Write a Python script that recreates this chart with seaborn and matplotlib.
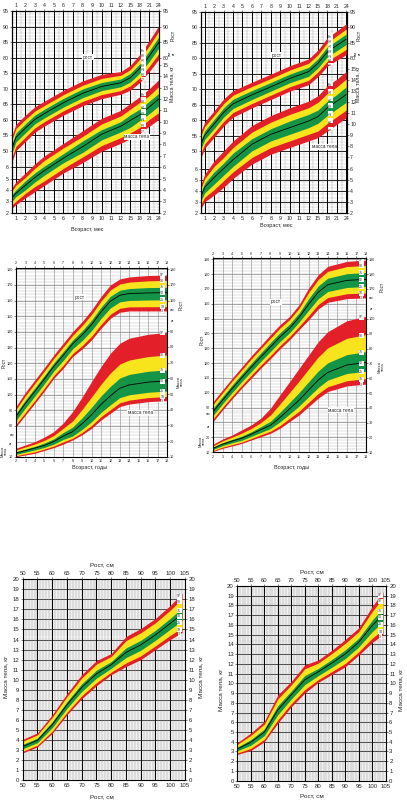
import numpy as np
import matplotlib
matplotlib.use("Agg")
import matplotlib.pyplot as plt
import seaborn as sns

sns.set_style("white")
plt.rcParams['font.family'] = ['Liberation Sans', 'DejaVu Sans']

RED = "#e3202a"
YEL = "#f7e41c"
GRN = "#139447"
W, H = 407, 802

pct_names = ["3", "10", "25", "50", "75", "90", "97"]

# ---- 0-24 месяцев ----
infant_age = [0, 1, 2, 3, 4, 6, 8, 10, 12, 15, 18, 21, 24]
month_ticks = [1, 2, 3, 4, 5, 6, 7, 8, 9, 10, 11, 12, 15, 18, 21, 24]

# строки: 3, 10, 25, 50, 75, 90, 97 перцентили
girls_inf_height = [
    [46.5, 50.0, 53.0, 56.0, 58.0, 61.5, 64.5, 66.8, 68.2, 69.5, 72.0, 75.5, 79.5],
    [47.9, 51.4, 54.4, 57.4, 59.4, 62.9, 65.9, 68.1, 69.4, 70.9, 73.5, 77.2, 81.3],
    [49.3, 52.8, 55.8, 58.7, 60.6, 64.1, 67.1, 69.4, 70.6, 72.1, 75.0, 78.8, 83.1],
    [50.8, 54.3, 57.3, 60.1, 62.0, 65.5, 68.5, 70.7, 71.9, 73.5, 76.5, 80.5, 84.9],
    [52.2, 55.7, 58.7, 61.5, 63.4, 66.9, 69.9, 72.0, 73.1, 74.9, 78.0, 82.2, 86.7],
    [53.6, 57.1, 60.1, 62.8, 64.6, 68.1, 71.1, 73.3, 74.3, 76.1, 79.5, 83.8, 88.5],
    [55.0, 58.5, 61.5, 64.2, 66.0, 69.5, 72.5, 74.6, 75.5, 77.5, 81.0, 85.5, 90.3],
]
girls_inf_weight = [
    [2.4, 2.7, 3.3, 3.85, 4.4, 5.5, 6.4, 7.4, 8.1, 8.5, 9.0, 9.6, 10.2],
    [2.7, 3.0, 3.7, 4.3, 4.8, 5.9, 6.9, 7.9, 8.6, 9.0, 9.5, 10.2, 10.8],
    [3.0, 3.4, 4.0, 4.7, 5.3, 6.4, 7.3, 8.4, 9.1, 9.5, 10.1, 10.7, 11.4],
    [3.3, 3.7, 4.4, 5.1, 5.7, 6.8, 7.8, 8.9, 9.6, 10.1, 10.6, 11.3, 12.0],
    [3.6, 4.0, 4.8, 5.5, 6.1, 7.2, 8.3, 9.3, 10.0, 10.6, 11.1, 11.8, 12.5],
    [3.9, 4.4, 5.1, 5.9, 6.6, 7.7, 8.7, 9.8, 10.5, 11.1, 11.7, 12.3, 13.1],
    [4.2, 4.7, 5.5, 6.3, 7.0, 8.1, 9.2, 10.3, 11.0, 11.6, 12.2, 12.9, 13.7],
]
boys_inf_height = [
    [48.0, 51.0, 54.5, 58.1, 61.0, 64.0, 66.7, 69.4, 71.5, 74.1, 77.5, 79.4, 81.2],
    [49.4, 52.4, 56.0, 59.6, 62.5, 65.4, 68.1, 70.8, 72.9, 75.6, 79.1, 81.0, 82.9],
    [50.8, 53.8, 57.3, 61.0, 63.8, 66.7, 69.4, 72.1, 74.2, 76.9, 80.5, 82.5, 84.5],
    [52.3, 55.2, 58.8, 62.5, 65.3, 68.2, 70.8, 73.5, 75.7, 78.4, 82.1, 84.2, 86.2],
    [53.7, 56.6, 60.3, 64.0, 66.8, 69.6, 72.2, 74.9, 77.1, 79.9, 83.7, 85.8, 87.9],
    [55.1, 58.0, 61.6, 65.4, 68.1, 70.9, 73.5, 76.2, 78.4, 81.2, 85.1, 87.3, 89.5],
    [56.5, 59.4, 63.1, 66.9, 69.6, 72.3, 74.9, 77.6, 79.8, 82.7, 86.7, 88.9, 91.2],
]
boys_inf_weight = [
    [2.4, 3.0, 3.6, 4.3, 5.1, 6.4, 7.3, 7.9, 8.5, 8.8, 9.4, 10.0, 10.6],
    [2.8, 3.4, 4.1, 4.9, 5.7, 7.0, 7.9, 8.5, 9.1, 9.4, 10.1, 10.7, 11.3],
    [3.1, 3.8, 4.6, 5.4, 6.2, 7.6, 8.5, 9.1, 9.7, 10.1, 10.8, 11.4, 12.0],
    [3.5, 4.3, 5.2, 6.0, 6.8, 8.2, 9.1, 9.7, 10.3, 10.7, 11.5, 12.1, 12.7],
    [3.9, 4.7, 5.7, 6.5, 7.4, 8.7, 9.6, 10.3, 10.9, 11.3, 12.1, 12.7, 13.4],
    [4.2, 5.1, 6.2, 7.0, 7.9, 9.3, 10.2, 10.9, 11.5, 12.0, 12.8, 13.4, 14.1],
    [4.6, 5.5, 6.7, 7.6, 8.5, 9.9, 10.8, 11.5, 12.1, 12.6, 13.5, 14.1, 14.8],
]

# ---- 2-18 лет ----
child_age = [2, 3, 4, 5, 6, 7, 8, 9, 10, 11, 12, 13, 14, 16, 18]
girls_height = [
    [79.5, 87.0, 94.5, 102.3, 110.4, 116.8, 124.3, 129.1, 134.9, 142.3, 148.7, 152.6, 153.4, 153.4, 153.4],
    [81.1, 88.7, 96.3, 104.1, 112.2, 118.7, 126.2, 131.2, 137.2, 144.7, 151.3, 155.1, 156.0, 156.1, 156.1],
    [83.5, 91.5, 99.1, 106.9, 115.0, 121.8, 129.2, 134.5, 140.8, 148.6, 155.3, 159.2, 160.1, 160.4, 160.5],
    [86.1, 94.4, 102.1, 109.9, 118.0, 125.0, 132.4, 138.0, 144.6, 152.7, 159.6, 163.4, 164.5, 164.9, 165.1],
    [88.1, 96.6, 104.3, 112.1, 120.2, 127.4, 134.8, 140.7, 147.5, 155.7, 162.8, 166.6, 167.7, 168.3, 168.5],
    [90.6, 99.3, 107.2, 115.0, 123.1, 130.4, 137.8, 144.0, 151.1, 159.6, 166.8, 170.6, 171.8, 172.6, 172.9],
    [92.5, 101.5, 109.4, 117.2, 125.3, 132.8, 140.2, 146.6, 154.0, 162.6, 170.0, 173.8, 175.1, 176.0, 176.3],
]
girls_weight = [
    [10.0, 11.1, 12.2, 14.0, 15.8, 18.0, 20.7, 24.0, 28.1, 33.4, 37.7, 42.0, 43.6, 45.1, 45.8],
    [10.6, 11.9, 13.1, 14.9, 16.8, 19.4, 21.8, 25.4, 29.9, 35.5, 40.0, 44.4, 46.1, 47.7, 48.4],
    [11.5, 12.9, 14.3, 15.9, 18.0, 21.0, 23.2, 27.4, 32.3, 38.2, 43.1, 47.7, 49.5, 51.1, 51.9],
    [12.4, 13.9, 15.5, 17.2, 19.7, 23.1, 26.0, 31.0, 36.7, 43.3, 48.8, 53.7, 55.8, 57.6, 58.4],
    [13.2, 14.9, 16.6, 18.7, 21.4, 25.4, 28.9, 34.8, 41.5, 48.7, 54.9, 60.2, 62.5, 64.5, 65.4],
    [14.3, 16.2, 18.1, 20.4, 23.5, 28.1, 32.8, 40.1, 48.1, 56.2, 63.4, 69.1, 71.7, 73.9, 74.9],
    [15.4, 17.5, 19.6, 22.5, 26.0, 31.5, 38.8, 48.0, 57.9, 67.5, 76.0, 82.4, 85.6, 88.1, 89.3],
]
boys_height = [
    [80.5, 88.4, 95.9, 103.1, 109.8, 116.6, 122.9, 129.6, 135.7, 142.5, 149.2, 156.5, 161.0, 163.5, 164.0],
    [82.3, 90.2, 97.7, 104.9, 111.8, 118.6, 125.0, 131.7, 137.8, 144.7, 152.0, 159.5, 164.2, 166.8, 167.3],
    [84.6, 92.5, 100.1, 107.4, 114.3, 121.2, 127.8, 134.5, 140.4, 147.6, 155.6, 163.4, 168.3, 171.0, 171.7],
    [87.1, 95.0, 102.7, 110.1, 117.2, 124.1, 130.8, 137.6, 143.4, 150.8, 159.7, 167.8, 172.9, 175.8, 176.5],
    [89.5, 97.4, 105.2, 112.6, 119.9, 126.9, 133.8, 140.5, 146.3, 153.8, 163.5, 172.0, 177.3, 180.3, 181.1],
    [92.1, 100.0, 107.9, 115.3, 122.8, 129.8, 136.8, 143.6, 149.3, 157.0, 167.6, 176.4, 181.9, 185.1, 185.9],
    [94.0, 101.9, 109.8, 117.3, 124.9, 131.9, 139.1, 145.9, 151.5, 159.4, 170.6, 179.6, 185.3, 188.6, 189.5],
]
boys_weight = [
    [10.5, 12.7, 14.3, 16.0, 18.3, 20.5, 22.8, 26.2, 30.7, 35.2, 40.9, 46.5, 51.0, 54.8, 56.0],
    [11.1, 13.5, 15.2, 16.9, 19.3, 21.8, 24.2, 28.0, 32.9, 37.7, 43.7, 49.6, 54.2, 58.3, 59.7],
    [11.9, 14.5, 16.4, 18.1, 20.7, 23.4, 26.0, 30.5, 35.8, 41.2, 47.5, 53.7, 58.7, 63.2, 64.7],
    [12.7, 15.5, 17.6, 19.5, 22.2, 25.3, 28.2, 33.4, 39.3, 45.2, 52.0, 58.7, 63.9, 68.9, 70.6],
    [13.4, 16.5, 18.7, 20.9, 23.8, 27.3, 30.9, 37.0, 43.6, 50.3, 57.6, 64.8, 70.4, 75.9, 77.9],
    [14.4, 17.7, 20.2, 22.9, 26.1, 30.0, 35.1, 42.6, 50.3, 58.1, 66.2, 74.3, 80.5, 86.9, 89.4],
    [15.4, 19.0, 21.7, 25.1, 28.5, 33.0, 39.7, 48.7, 57.6, 66.6, 75.6, 84.6, 91.4, 98.8, 101.7],
]

# ---- масса тела по росту ----
stature = [50, 55, 60, 65, 70, 75, 80, 85, 90, 95, 100, 104]
girls_wfh = [
    [2.70, 3.30, 4.65, 6.50, 8.10, 9.40, 10.50, 11.30, 12.00, 13.00, 14.00, 14.70],
    [2.86, 3.47, 4.87, 6.75, 8.39, 9.70, 10.75, 11.66, 12.37, 13.37, 14.41, 15.17],
    [3.11, 3.72, 5.21, 7.13, 8.82, 10.15, 11.13, 12.20, 12.93, 13.93, 15.02, 15.87],
    [3.33, 3.96, 5.52, 7.49, 9.23, 10.58, 11.49, 12.71, 13.46, 14.46, 15.60, 16.53],
    [3.54, 4.17, 5.80, 7.80, 9.59, 10.95, 11.80, 13.16, 13.92, 14.92, 16.11, 17.12],
    [3.86, 4.50, 6.24, 8.31, 10.16, 11.55, 12.31, 13.88, 14.67, 15.67, 16.92, 18.05],
    [4.05, 4.70, 6.50, 8.60, 10.50, 11.90, 12.60, 14.30, 15.10, 16.10, 17.40, 18.60],
]
boys_wfh = [
    [2.70, 3.10, 4.00, 5.90, 7.60, 9.00, 10.10, 10.90, 11.70, 12.90, 14.20, 15.00],
    [2.84, 3.32, 4.25, 6.25, 7.91, 9.35, 10.38, 11.20, 12.04, 13.24, 14.64, 15.53],
    [3.06, 3.64, 4.63, 6.77, 8.38, 9.87, 10.79, 11.65, 12.54, 13.74, 15.31, 16.32],
    [3.26, 3.95, 4.99, 7.26, 8.82, 10.36, 11.18, 12.08, 13.02, 14.22, 15.94, 17.07],
    [3.44, 4.22, 5.30, 7.70, 9.21, 10.80, 11.53, 12.45, 13.44, 14.64, 16.49, 17.73],
    [3.73, 4.65, 5.81, 8.39, 9.84, 11.49, 12.08, 13.05, 14.11, 15.31, 17.38, 18.78],
    [3.90, 4.90, 6.10, 8.80, 10.20, 11.90, 12.40, 13.40, 14.50, 15.70, 17.90, 19.40],
]

fig = plt.figure(figsize=(W / 100, H / 100), dpi=100)


def px_axes(l, t, r, b):
    return fig.add_axes([l / W, 1 - b / H, (r - l) / W, (b - t) / H])


def ftext(x, y, s, **kw):
    kw.setdefault("fontsize", 4)
    kw.setdefault("ha", "center")
    kw.setdefault("va", "center")
    fig.text(x / W, 1 - y / H, s, **kw)


def month_pos(m):
    return np.interp(m, [0, 1, 12, 24], [0.6, 1, 12, 16])


def bands(ax, x, rows, label_x, rot=0, fs=3):
    p3, p10, p25, p50, p75, p90, p97 = [np.asarray(r, dtype=float) for r in rows]
    ax.fill_between(x, p3, p97, color=RED, lw=0, zorder=2)
    ax.fill_between(x, p10, p90, color=YEL, lw=0, zorder=3)
    ax.fill_between(x, p25, p75, color=GRN, lw=0, zorder=4)
    sns.lineplot(x=x, y=p50, ax=ax, color="black", lw=0.6, zorder=5)
    for name, r in zip(pct_names, rows):
        yy = np.interp(label_x, x, np.asarray(r, dtype=float))
        ax.text(label_x, yy, name, fontsize=fs, rotation=rot, ha="center", va="center",
                color="#333333", zorder=6,
                bbox=dict(boxstyle="square,pad=0.12", fc="white", ec="none"))


def frame(ax, lw=0.8):
    for s in ax.spines.values():
        s.set_color("black")
        s.set_linewidth(lw)


def right_axis(ax, ticks, labels, fs):
    rt = ax.twinx()
    rt.set_ylim(ax.get_ylim())
    rt.set_yticks(ticks)
    rt.set_yticklabels(labels)
    rt.tick_params(labelsize=fs, length=1.5, width=0.4, pad=1)
    frame(rt)
    return rt


def infant_panel(box, hrows, wrows, wscale, label_x):
    ax = px_axes(*box)
    wmap = lambda w: 30.1 + wscale * (np.asarray(w, dtype=float) - 2)
    x = month_pos(infant_age)
    bands(ax, x, hrows, label_x, rot=90, fs=2.6)
    bands(ax, x, [wmap(r) for r in wrows], label_x, rot=90, fs=2.6)
    ax.set_xlim(0.6, 16.05)
    ax.set_ylim(30.1, 95)
    for v in np.arange(31, 95):
        ax.axhline(v, color="#9a9a9a", lw=0.3, ls=(0, (2, 1)), zorder=1)
    for v in range(50, 96, 5):
        ax.axhline(v, color="black", lw=0.6, zorder=1)
    for w in range(2, 7):
        ax.axhline(wmap(w), color="black", lw=0.6, zorder=1)
    for p in range(1, 17):
        ax.axvline(p, color="black", lw=0.7, zorder=1)
    for p in np.arange(1.5, 16, 1):
        ax.axvline(p, color="#777777", lw=0.3, ls=(0, (2, 1)), zorder=1)
    ax.set_xticks(range(1, 17))
    ax.set_xticklabels([str(m) for m in month_ticks])
    hticks = list(range(50, 96, 5))
    ax.set_yticks(hticks + [float(wmap(w)) for w in range(2, 7)])
    ax.set_yticklabels([str(h) for h in hticks] + [str(w) for w in range(2, 7)])
    ax.tick_params(labelsize=3.8, length=1.5, width=0.4, pad=1, top=True, labeltop=True)
    ax.set_xlabel("")
    ax.set_ylabel("")
    frame(ax)
    rh = [80, 85, 90, 95]
    right_axis(ax, rh + [float(wmap(w)) for w in range(2, 16)],
               [str(h) for h in rh] + [str(w) for w in range(2, 16)], 3.8)
    return ax


def child_panel(box, hrows, wrows, off, top, left_h, left_w, right_h, right_w, label_x):
    ax = px_axes(*box)
    x = np.asarray(child_age, dtype=float)
    bands(ax, x, hrows, label_x, fs=2.6)
    bands(ax, x, [np.asarray(r) + off for r in wrows], label_x, fs=2.6)
    ax.set_xlim(2, 18)
    ax.set_ylim(10 + off, top)
    for v in np.arange(62, top, 2):
        ax.axhline(v, color="#b5b5b5", lw=0.3, zorder=1)
    for v in range(70, int(top) + 1, 10):
        ax.axhline(v, color="#7a7a7a", lw=0.45, zorder=1)
    for a in range(3, 18):
        ax.axvline(a, color="#8a8a8a", lw=0.4, zorder=1)
    ax.set_xticks(range(2, 19))
    ax.tick_params(labelsize=2.7, length=1.2, width=0.4, pad=0.8, top=True, labeltop=True)
    ax.set_yticks(left_h + [w + off for w in left_w])
    ax.set_yticklabels([str(h) for h in left_h] + [str(w) for w in left_w])
    ax.set_xlabel("")
    ax.set_ylabel("")
    frame(ax, 0.6)
    rt = right_axis(ax, right_h + [w + off for w in right_w],
                    [str(h) for h in right_h] + [str(w) for w in right_w], 2.7)
    rt.tick_params(length=1.2, pad=0.8)
    return ax


def wfh_panel(box, rows):
    ax = px_axes(*box)
    x = np.asarray(stature, dtype=float)
    bands(ax, x, rows, 103.0, fs=2.6)
    ax.set_xlim(50, 105)
    ax.set_ylim(0, 20)
    for v in np.arange(0.1, 20, 0.1):
        ax.axhline(v, color="#c4c4c4", lw=0.2, zorder=1)
    for v in range(1, 20):
        ax.axhline(v, color="black", lw=0.5, zorder=1)
    for v in range(51, 105):
        ax.axvline(v, color="#9a9a9a", lw=0.3, zorder=1)
    for v in range(55, 105, 5):
        ax.axvline(v, color="black", lw=0.7, zorder=1)
    ax.set_xticks(range(50, 106, 5))
    ax.set_yticks(range(0, 21))
    ax.tick_params(labelsize=4.3, length=1.5, width=0.4, pad=1, top=True, labeltop=True)
    ax.set_xlabel("")
    ax.set_ylabel("")
    frame(ax, 0.7)
    right_axis(ax, list(range(0, 21)), [str(v) for v in range(0, 21)], 4.3)
    return ax


box_kw = dict(fontsize=3.4, bbox=dict(boxstyle="square,pad=0.15", fc="white", ec="none"))

# верхний ряд
infant_panel((12, 11, 159.3, 212.7), girls_inf_height, girls_inf_weight, 3.66, 14.4)
infant_panel((201, 12, 346.7, 212.7), boys_inf_height, boys_inf_weight, 3.57, 14.36)
ftext(87, 229, "Возраст, мес", fontsize=4)
ftext(276, 225, "Возраст, мес", fontsize=4)
ftext(88, 57, "рост", **box_kw)
ftext(137, 137, "масса тела", **box_kw)
ftext(277, 55, "рост", **box_kw)
ftext(324, 147, "масса тела", **box_kw)
for xr in (173, 359):
    ftext(xr, 35, "Рост", rotation=90, fontsize=3.8)
    ftext(xr - 1, 53, "см\nкг", rotation=90, fontsize=3.2, linespacing=0.9)
    ftext(xr - 1, 84, "Масса тела, кг", rotation=90, fontsize=3.8)

# средний ряд
child_panel((16, 267.7, 167, 456.7), girls_height, girls_weight, 50.4, 181,
            list(range(80, 181, 10)), [10], [160, 170, 180],
            list(range(10, 91, 10)), 17.5)
child_panel((213, 258.3, 366, 452.3), boys_height, boys_weight, 49.8, 190.7,
            list(range(90, 191, 10)), [10, 20], [170, 180, 190],
            list(range(10, 101, 10)), 17.5)
ftext(90, 468, "Возраст, годы", fontsize=4)
ftext(292, 467, "Возраст, годы", fontsize=4)
ftext(80, 297, "рост", **box_kw)
ftext(140, 413, "масса тела", **box_kw)
ftext(276, 302, "рост", **box_kw)
ftext(341, 410, "масса тела", **box_kw)
ftext(4, 363, "Рост", rotation=90, fontsize=3.4)
ftext(12, 435, "см", fontsize=2.8)
ftext(4, 451, "Масса\nтела", rotation=90, fontsize=2.8, linespacing=0.9)
ftext(10, 444, "кг", fontsize=2.8)
ftext(172, 310, "см", fontsize=2.8)
ftext(172, 321, "кг", fontsize=2.8)
ftext(181, 305, "Рост", rotation=90, fontsize=3.4)
ftext(180, 382, "Масса\nтела", rotation=90, fontsize=3.0, linespacing=0.9)
ftext(202, 340, "Рост", rotation=90, fontsize=3.4)
ftext(208, 414, "см", fontsize=2.8)
ftext(208, 427, "кг", fontsize=2.8)
ftext(202, 441, "Масса\nтела", rotation=90, fontsize=2.8, linespacing=0.9)
ftext(371, 298, "см", fontsize=2.8)
ftext(371, 309, "кг", fontsize=2.8)
ftext(382, 287, "Рост", rotation=90, fontsize=3.4)
ftext(381, 367, "Масса\nтела", rotation=90, fontsize=3.0, linespacing=0.9)

# нижний ряд
wfh_panel((22.7, 579.3, 185, 780), girls_wfh)
wfh_panel((237.3, 586, 385.7, 780.7), boys_wfh)
ftext(102, 565, "Рост, см", fontsize=4.6)
ftext(102, 797, "Рост, см", fontsize=4.6)
ftext(312, 572, "Рост, см", fontsize=4.6)
ftext(312, 796, "Рост, см", fontsize=4.6)
ftext(6, 677, "Масса тела, кг", rotation=90, fontsize=4.6)
ftext(201, 677, "Масса тела, кг", rotation=90, fontsize=4.6)
ftext(221, 690, "Масса тела, кг", rotation=90, fontsize=4.6)
ftext(401, 690, "Масса тела, кг", rotation=90, fontsize=4.6)

fig.savefig("out.png", dpi=100)
